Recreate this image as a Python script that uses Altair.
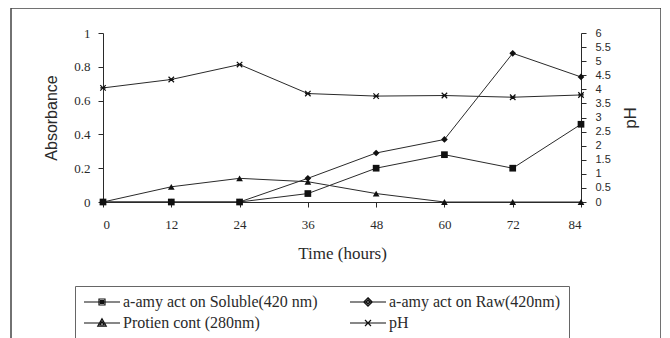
import altair as alt
import pandas as pd

hours = [0, 12, 24, 36, 48, 60, 72, 84]
soluble = [0, 0, 0, 0.05, 0.2, 0.28, 0.2, 0.46]
raw = [0, 0, 0, 0.14, 0.29, 0.37, 0.88, 0.74]
protein = [0, 0.09, 0.14, 0.12, 0.05, 0, 0, 0]
ph = [4.05, 4.35, 4.88, 3.85, 3.76, 3.78, 3.72, 3.8]

names = ["a-amy act on Soluble(420 nm)", "a-amy act on Raw(420nm)",
         "Protien cont (280nm)", "pH"]
abs_ticks = [0, 0.2, 0.4, 0.6, 0.8, 1]
ph_ticks = [0, 0.5, 1, 1.5, 2, 2.5, 3, 3.5, 4, 4.5, 5, 5.5, 6]

rows = []
for name, vals in zip(names[:3], [soluble, raw, protein]):
    for h, v in zip(hours, vals):
        rows.append({"hours": h, "value": v, "series": name})
abs_df = pd.DataFrame(rows)
ph_df = pd.DataFrame({"hours": hours, "ph": ph, "series": "pH"})

SERIF = "Liberation Serif"
SANS = "Liberation Sans"
INK = "#2a2a2a"
XPATH = "M-1,-1L1,1M-1,1L1,-1M-1,0L1,0"

x_enc = alt.X("hours:Q", scale=alt.Scale(domain=[0, 84], nice=False),
              axis=alt.Axis(values=hours, title="Time (hours)", labelFont=SERIF,
                            labelFontSize=13, labelPadding=11, tickSize=5,
                            titleFont=SERIF, titleFontSize=17, titleFontWeight="normal",
                            titlePadding=14, grid=False))

y_abs = alt.Y("value:Q", scale=alt.Scale(domain=[0, 1], nice=False),
              axis=alt.Axis(values=abs_ticks, format="~g", title="Absorbance",
                            labelFont=SERIF, labelFontSize=13, labelPadding=8,
                            tickSize=5, titleFont=SANS, titleFontSize=16,
                            titleFontWeight="normal", titlePadding=14, grid=False))

abs_lines = alt.Chart(abs_df).mark_line(color=INK, strokeWidth=1).encode(
    x=x_enc, y=y_abs, detail="series:N")
abs_points = alt.Chart(abs_df).mark_point(filled=True, color="#111", size=45, opacity=1).encode(
    x=x_enc, y=y_abs,
    shape=alt.Shape("series:N", scale=alt.Scale(domain=names[:3],
                    range=["square", "diamond", "triangle-up"]), legend=None))
abs_layer = alt.layer(abs_lines, abs_points)

y_ph = alt.Y("ph:Q", scale=alt.Scale(domain=[0, 6], nice=False),
             axis=alt.Axis(values=ph_ticks, format="~g", title="pH", orient="right",
                           labelFont=SANS, labelFontSize=11, labelPadding=9,
                           tickSize=5, titleFont=SANS, titleFontSize=17,
                           titleFontWeight="normal", titleAngle=270, titlePadding=29,
                           grid=False))
ph_line = alt.Chart(ph_df).mark_line(color=INK, strokeWidth=1).encode(x=x_enc, y=y_ph)
ph_points = alt.Chart(ph_df).mark_point(shape=XPATH, color="#111", size=30,
                                        strokeWidth=1.2, opacity=1).encode(x=x_enc, y=y_ph)
ph_layer = alt.layer(ph_line, ph_points)

leg_paths = [
    "M-1.4,0H5.8M1.6,-0.6H2.8V0.6H1.6ZM1.9,-0.3H2.5V0.3H1.9ZM2.05,-0.1H2.35V0.1H2.05Z",
    "M-1.4,0H5.8M2.2,-0.85L3.05,0L2.2,0.85L1.35,0ZM2.2,-0.45L2.65,0L2.2,0.45L1.75,0Z",
    "M-1.4,0H5.8M2.2,-0.85L3.05,0.65L1.35,0.65ZM2.2,-0.3L2.6,0.4L1.8,0.4Z",
    "M-1.4,0H5.8M1.6,-0.6L2.8,0.6M1.6,0.6L2.8,-0.6",
]
legend_layer = alt.Chart(abs_df).transform_filter("false").mark_point(
    filled=False, color="#111", strokeWidth=1.2, opacity=1).encode(
    shape=alt.Shape("series:N", scale=alt.Scale(domain=names, range=leg_paths),
                    legend=alt.Legend(orient="none", legendX=-28, legendY=253,
                                      columns=2, direction="horizontal",
                                      gridAlign="all", title=None,
                                      strokeColor="#666", padding=8,
                                      labelFont=SERIF, labelFontSize=16,
                                      labelColor=INK, labelOffset=24, labelLimit=0,
                                      columnPadding=29, rowPadding=5,
                                      symbolSize=100, symbolStrokeColor="#111",
                                      symbolStrokeWidth=1.2, symbolOpacity=1)))

frame = alt.Chart(alt.Data(values=[{"a": 1}])).mark_rect(
    fill=None, stroke="#444", strokeWidth=1.5).encode(
    x=alt.value(-92), x2=alt.value(558), y=alt.value(-25), y2=alt.value(340))

chart = alt.layer(frame, abs_layer, ph_layer, legend_layer).resolve_scale(
    y="independent", shape="independent").properties(
    width=478, height=169,
    padding={"left": 95, "top": 25, "right": 80, "bottom": 138},
    autosize=alt.AutoSizeParams(type="none"),
).configure_view(stroke=None).configure_axis(
    domainColor=INK, tickColor=INK, labelColor=INK, titleColor=INK)

chart.save("out.html", embed_options={"renderer": "svg", "actions": False})
